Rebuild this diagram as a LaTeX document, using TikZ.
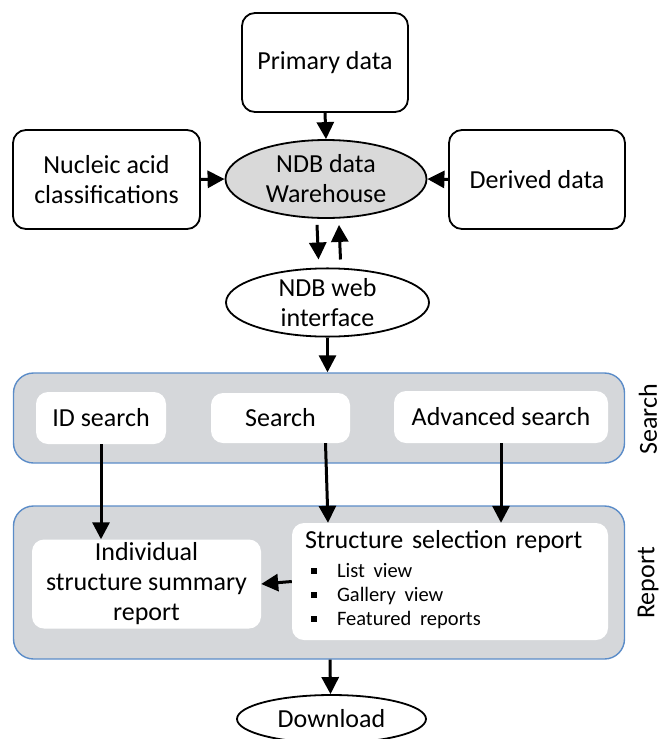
\documentclass[tikz,border=0pt]{standalone}
\usepackage{fontspec}
\setmainfont{Carlito}
\usetikzlibrary{shapes.geometric,arrows.meta}

\definecolor{panelgray}{HTML}{D5D7DA}
\definecolor{panelblue}{HTML}{5B8CC8}
\definecolor{housegray}{HTML}{D9D9D9}

\newcommand{\sqitem}[1]{\hspace*{6pt}\rule[3pt]{6pt}{6pt}\hspace{20pt}#1}

\begin{document}
\begin{tikzpicture}[x=1pt,y=-1pt,
        font=\fontsize{26}{30}\selectfont,
        databox/.style={draw, line width=1.8pt, rounded corners=13pt, align=center, inner sep=0pt},
        oval/.style={ellipse, draw, line width=1.8pt, align=center, inner sep=0pt},
        panel/.style={draw=panelblue, line width=1.4pt, fill=panelgray, rounded corners=20pt, inner sep=0pt},
        whitebox/.style={fill=white, rounded corners=12pt, inner sep=0pt},
        sidelabel/.style={rotate=90, inner sep=0.5pt},
        flow/.style={line width=3pt, -{Triangle[length=17pt,width=17pt]}}]
            \useasboundingbox (0,0) rectangle (663,739);

            % sources and warehouse
            \node[databox, minimum width=166pt, minimum height=99pt] (primary) at (325,62.5) {Primary data};
            \node[databox, minimum width=187pt, minimum height=99pt] (nucleic) at (106.5,179.5) {Nucleic acid\\classifications};
            \node[databox, minimum width=176pt, minimum height=99pt] (derived) at (537,179.5) {Derived data};
            \node[oval, fill=housegray, minimum width=201pt, minimum height=78pt] (warehouse) at (326,179) {NDB data\\Warehouse};
            \node[oval, minimum width=203pt, minimum height=65pt] (web) at (327.5,302.5) {NDB web\\interface};

            % search panel
            \node[panel, minimum width=611pt, minimum height=90pt] (searchpanel) at (319,418) {};
            \node[whitebox, minimum width=130pt, minimum height=52pt] (idsearch) at (101,418) {ID search};
            \node[whitebox, minimum width=139pt, minimum height=50pt] (search) at (280.5,418) {Search};
            \node[whitebox, minimum width=214pt, minimum height=52pt] (advanced) at (501,417) {Advanced search};
            \node[sidelabel] (searchlabel) at (648,419) {Search};

            % report panel
            \node[panel, minimum width=611pt, minimum height=153pt] (reportpanel) at (319,582.5) {};
            \node[whitebox, align=center, minimum width=229pt, minimum height=89pt] (individual) at (146.5,584) {Individual\\structure summary\\report};
            \node[whitebox, text width=290pt, inner xsep=13pt, minimum height=117pt] (selection) at (450,581.5)
                {\renewcommand{\arraystretch}{0.8}%
                 \begin{tabular}{@{}l@{}}
                 Structure selection report\\[5pt]
                 \fontsize{20.5}{24.5}\selectfont\sqitem{List view}\\
                 \fontsize{20.5}{24.5}\selectfont\sqitem{Gallery view}\\
                 \fontsize{20.5}{24.5}\selectfont\sqitem{Featured reports}
                 \end{tabular}};
            \node[sidelabel] (reportlabel) at (648,583) {Report};

            \node[oval, minimum width=189pt, minimum height=48pt] (download) at (331.5,719) {Download};

            % connectors
            \draw[flow] (primary.south) -- (warehouse.north);
            \draw[flow] (nucleic.east) -- (warehouse.west);
            \draw[flow] (derived.west) -- (warehouse.east);
            \draw[flow] ([xshift=-9pt,yshift=-6pt]warehouse.south) -- ([xshift=-9pt,yshift=8pt]web.north);
            \draw[flow] ([xshift=13pt,yshift=8pt]web.north) -- ([xshift=13pt,yshift=-6pt]warehouse.south);
            \draw[flow] (web.south) -- (web.south |- searchpanel.north);
            \draw[flow] (idsearch.south) -- (idsearch.south |- individual.north);
            \draw[flow] ([xshift=45pt]search.south) -- ([xshift=-122pt]selection.north);
            \draw[flow] (advanced.south) -- (advanced.south |- selection.north);
            \draw[flow] (selection.west) -- (individual.east);
            \draw[flow] ([xshift=11pt]reportpanel.south) -- ([xshift=-1pt]download.north);
        \end{tikzpicture}
\end{document}
